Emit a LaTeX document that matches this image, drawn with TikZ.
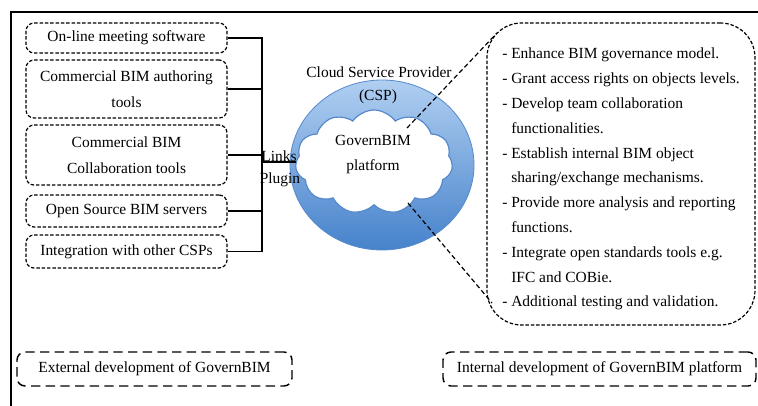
\documentclass[tikz,border=0pt]{standalone}
\usepackage{fontspec}
\setmainfont{Liberation Serif}
\usetikzlibrary{shapes.symbols,shapes.geometric}
\definecolor{bluelt}{HTML}{B0CFF1}
\definecolor{bluedk}{HTML}{4682CB}
\definecolor{blueedge}{HTML}{5689CC}
\begin{document}
\begin{tikzpicture}[x=0.75pt,y=-0.75pt,
  every node/.style={font=\fontsize{11.6}{19.5}\selectfont, inner sep=0pt},
  leftbox/.style={draw, line width=0.9pt, dash pattern=on 2.6pt off 1.4pt, rounded corners=6pt, minimum width=150.75pt, align=center},
  rightbox/.style={draw, line width=0.9pt, dash pattern=on 2.6pt off 1.4pt, rounded corners=26pt},
  bottombox/.style={draw, line width=1.1pt, dash pattern=on 7pt off 4pt, rounded corners=6pt},
  conn/.style={line width=0.9pt},
  dashline/.style={line width=0.9pt, dash pattern=on 3.5pt off 2.2pt},
]
\useasboundingbox (0,0) rectangle (758,406);
\draw[line width=1.1pt] (11,420) -- (11,12) -- (770,12);

% left boxes
\node[leftbox, minimum height=22.5pt] (b1) at (126.5,38) {On-line meeting software};
\node[leftbox, minimum height=43.5pt] (b2) at (126.5,89) {Commercial BIM authoring\\tools};
\node[leftbox, minimum height=45pt] (b3) at (126.5,155) {Commercial BIM\\Collaboration tools};
\node[leftbox, minimum height=24pt] (b4) at (126.5,211) {Open Source BIM servers};
\node[leftbox, minimum height=24.75pt] (b5) at (126.5,251.5) {Integration with other CSPs};

\coordinate (bus) at (262,0);
\draw[conn] (b1.east) -- (b1.east -| bus) -- (b5.east -| bus) -- (b5.east);
\draw[conn] (b2.east) -- (b2.east -| bus);
\draw[conn] (b3.east) -- (b3.east -| bus);
\draw[conn] (b4.east) -- (b4.east -| bus);

% CSP ellipse and cloud
\node[ellipse, draw=blueedge, line width=0.6pt, top color=bluelt, bottom color=bluedk, minimum width=138pt, minimum height=127.5pt] (csp) at (382,165) {};
\node[cloud, cloud puffs=11, cloud puff arc=110, aspect=1.5, draw=blueedge, fill=white, line width=0.9pt, minimum width=118pt, minimum height=78pt] (gb) at (374,162) {};
\draw[conn] (gb.west -| bus) -- (gb.west);

\node (cspl) at (379,72) {Cloud Service Provider};
\node (cspa) at (378,97) {(CSP)};
\node[align=center, font=\fontsize{11.6}{18.75}\selectfont] (gbt) at (373,155) {GovernBIM\\platform};
\node (links) at (279,156) {Links};
\node (plugin) at (280,180) {Plugin};

% internal box
\node[rightbox, minimum width=201pt, minimum height=226.5pt] (ib) at (621,174) {};
\node[anchor=north west, align=left, font=\fontsize{11.6}{18.6}\selectfont] (items) at (502,48) {%
- Enhance BIM governance model.\\
- Grant access rights on objects levels.\\
- Develop team collaboration\\
\phantom{- }functionalities.\\
- Establish internal BIM object\\
\phantom{- }sharing/exchange mechanisms.\\
- Provide more analysis and reporting\\
\phantom{- }functions.\\
- Integrate open standards tools e.g.\\
\phantom{- }IFC and COBie.\\
- Additional testing and validation.};

\coordinate (u1) at (407,128);
\coordinate (u2) at (497,33);
\coordinate (l1) at (408,203);
\coordinate (l2) at (492,303);
\draw[dashline] (u1) -- (u2);
\draw[dashline] (l1) -- (l2);

% bottom boxes
\node[bottombox, minimum width=206.25pt, minimum height=25.5pt] (ext) at (154.5,369) {External development of GovernBIM};
\node[bottombox, minimum width=234.75pt, minimum height=25.5pt] (int) at (599.5,369) {Internal development of GovernBIM platform};
\end{tikzpicture}
\end{document}
